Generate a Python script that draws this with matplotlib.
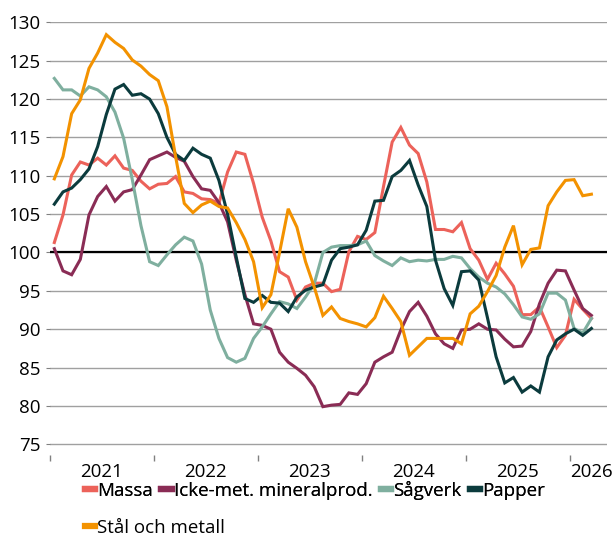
import matplotlib
matplotlib.use("Agg")
import matplotlib.pyplot as plt
from matplotlib.lines import Line2D
import numpy as np

plt.rcParams["font.family"] = ["Open Sans", "DejaVu Sans"]

# monthly index, jan 2021 = 0
massa = [101.3, 104.9, 110.1, 111.8, 111.4, 112.3, 111.4, 112.6, 111.0, 110.7,
         109.3, 108.3, 108.9, 109.0, 109.9, 107.9, 107.7, 107.0, 106.9, 106.4,
         110.5, 113.1, 112.8, 109.0, 104.6, 101.5, 97.5, 96.8, 93.8, 95.5,
         96.0, 96.0, 94.9, 95.2, 100.1, 102.1, 101.7, 102.6, 108.6, 114.4,
         116.3, 114.0, 112.9, 109.2, 103.0, 103.0, 102.7, 103.9, 100.5, 99.0,
         96.5, 98.6, 97.2, 95.6, 91.9, 91.9, 92.9, 90.3, 87.6, 89.2,
         93.9, 92.6, 91.4]
icke = [100.5, 97.6, 97.1, 99.1, 104.9, 107.3, 108.6, 106.7, 107.9, 108.2,
        110.1, 112.1, 112.6, 113.1, 112.4, 111.9, 109.9, 108.3, 108.1, 106.5,
        104.0, 99.0, 94.5, 90.7, 90.5, 90.0, 87.0, 85.7, 84.9, 84.0,
        82.5, 79.9, 80.1, 80.2, 81.7, 81.5, 82.9, 85.7, 86.4, 87.0,
        89.9, 92.3, 93.5, 91.7, 89.4, 88.1, 87.5, 89.9, 90.0, 90.7,
        90.0, 89.9, 88.7, 87.7, 87.8, 89.7, 93.3, 96.0, 97.7, 97.6,
        95.1, 92.7, 91.8]
sagverk = [122.7, 121.2, 121.2, 120.4, 121.6, 121.2, 120.3, 118.3, 114.9, 109.5,
           103.5, 98.8, 98.3, 99.7, 101.0, 102.0, 101.5, 98.5, 92.5, 88.8,
           86.3, 85.7, 86.2, 88.8, 90.3, 92.0, 93.6, 93.3, 92.7, 94.2,
           95.9, 100.0, 100.7, 100.9, 100.9, 101.0, 101.5, 99.6, 98.9, 98.3,
           99.3, 98.8, 99.0, 98.9, 99.1, 99.1, 99.5, 99.3, 97.9, 96.8,
           96.0, 95.5, 94.6, 93.2, 91.6, 91.3, 92.0, 94.7, 94.7, 93.8,
           90.1, 89.5, 91.4]
papper = [106.3, 107.9, 108.4, 109.5, 110.9, 113.8, 118.0, 121.3, 121.9, 120.5,
          120.7, 120.0, 118.1, 115.0, 112.8, 112.0, 113.6, 112.8, 112.3, 109.4,
          105.0, 99.4, 94.0, 93.5, 94.4, 93.5, 93.4, 92.3, 94.2, 95.1,
          95.5, 95.8, 99.0, 100.5, 100.7, 101.0, 102.9, 106.7, 106.8, 109.9,
          110.7, 112.0, 108.8, 106.0, 99.0, 95.3, 93.1, 97.5, 97.6, 96.4,
          91.5, 86.4, 83.0, 83.7, 81.8, 82.6, 81.8, 86.4, 88.6, 89.4,
          90.0, 89.2, 90.1]
stal = [109.6, 112.5, 118.1, 119.9, 124.0, 126.0, 128.4, 127.4, 126.6, 125.1,
        124.3, 123.2, 122.4, 119.0, 112.5, 106.4, 105.2, 106.2, 106.7, 106.0,
        105.8, 103.9, 101.7, 98.8, 92.8, 94.5, 100.0, 105.7, 103.3, 98.8,
        95.5, 91.8, 92.9, 91.4, 91.0, 90.7, 90.3, 91.5, 94.3, 92.7,
        91.0, 86.6, 87.7, 88.8, 88.8, 88.8, 88.8, 88.1, 92.0, 93.0,
        94.9, 97.0, 100.7, 103.5, 98.4, 100.4, 100.6, 106.1, 107.9, 109.4,
        109.5, 107.4, 107.6]

years = ["2021", "2022", "2023", "2024", "2025", "2026"]

series = [
    ("Massa", massa, "#EC625A"),
    ("Icke-met. mineralprod.", icke, "#8A2C55"),
    ("Sågverk", sagverk, "#7FAF9F"),
    ("Papper", papper, "#0B3B3D"),
    ("Stål och metall", stal, "#F39200"),
]

fig = plt.figure(figsize=(6.15, 5.37), dpi=100)
ax = fig.add_axes([50 / 615, 1 - 455 / 537, 557 / 615, 433 / 537])

x = np.arange(len(massa))
for name, vals, col in series:
    ax.plot(x, vals, color=col, lw=2.2, solid_joinstyle="miter", zorder=3)

ax.axhline(100, color="black", lw=1.6, zorder=2)

ax.set_ylim(73.6, 130.05)
ax.set_xlim(-0.5, 63.8)
ax.set_yticks(np.arange(75, 131, 5))
ax.grid(axis="y", color="#a0a0a0", lw=1.0, zorder=1)
for s in ax.spines.values():
    s.set_visible(False)
ax.tick_params(axis="y", length=3, color="#808080", labelsize=13.5, pad=4)

# year ticks at boundaries, labels in the middle of each year
ax.set_xticks(np.arange(-0.5, 64, 12))
ax.set_xticklabels([])
ax.tick_params(axis="x", length=4, color="#808080", width=1)
for i, y in enumerate(years[:-1]):
    ax.text(5.5 + 12 * i, -0.019, y, transform=ax.get_xaxis_transform(),
            ha="center", va="top", fontsize=13.5)
# the last label is pushed in from the right edge
fig.text(613 / 615, 1 - 463 / 537, years[-1], ha="right", va="top",
         fontsize=13.5)

handles = {name: Line2D([0], [0], color=col, lw=4.5) for name, _, col in series}
names = [s[0] for s in series]
leg1 = fig.legend([handles[n] for n in names[:4]], names[:4], ncol=4,
                  loc="upper left", bbox_to_anchor=(85 / 615, 1 - 481 / 537),
                  frameon=False, fontsize=13.5, handlelength=0.55,
                  handletextpad=0.1, columnspacing=0.45, borderaxespad=0,
                  borderpad=0)
leg2 = fig.legend([handles[names[4]]], [names[4]], loc="upper left",
                  bbox_to_anchor=(85 / 615, 1 - 519 / 537), frameon=False,
                  fontsize=13.5, handlelength=0.55, handletextpad=0.1,
                  borderaxespad=0, borderpad=0)
fig.add_artist(leg1)

fig.savefig("out.png", dpi=100)
